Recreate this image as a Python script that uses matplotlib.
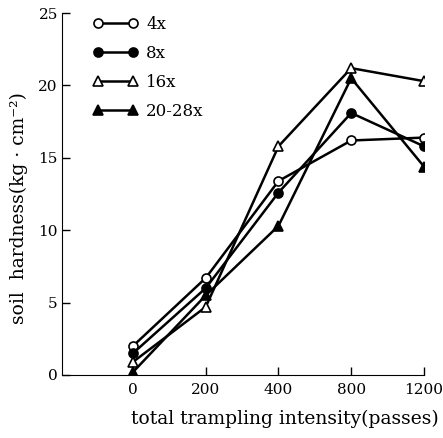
import matplotlib
matplotlib.use('Agg')
import matplotlib.pyplot as plt

plt.rcParams['font.family'] = ['DejaVu Serif']

# trampling intensity (passes), plotted as equally spaced categories
passes = ['0', '200', '400', '800', '1200']
labels = ['4x', '8x', '16x', '20-28x']
hard_4x = [2.0, 6.7, 13.4, 16.2, 16.4]
hard_8x = [1.5, 6.0, 12.6, 18.1, 15.8]
hard_16x = [0.9, 4.7, 15.8, 21.2, 20.3]
hard_20x = [0.2, 5.5, 10.3, 20.5, 14.4]

series = [hard_4x, hard_8x, hard_16x, hard_20x]
markers = ['o', 'o', '^', '^']
faces = ['white', 'black', 'white', 'black']

fig = plt.figure(figsize=(4.43, 4.38), dpi=100)
ax = fig.add_axes([0.14, 0.144, 0.817, 0.826])

xs = list(range(len(passes)))
for vals, m, fc, lab in zip(series, markers, faces, labels):
    ax.plot(xs, vals, color='black', lw=1.8, marker=m, markersize=6.5,
            markerfacecolor=fc, markeredgecolor='black', markeredgewidth=1.2,
            label=lab)

ax.set_xlim(-0.976, 4)
ax.set_ylim(0, 25)
ax.set_xticks(xs)
ax.set_xticklabels(passes)
ax.set_yticks([0, 5, 10, 15, 20, 25])
ax.spines['top'].set_visible(False)
ax.spines['right'].set_visible(False)
ax.tick_params(direction='in', length=6, width=1, labelsize=11)
ax.tick_params(axis='x', pad=6)
ax.tick_params(axis='y', pad=3)

ax.set_xlabel('total trampling intensity(passes)', fontsize=13.5)
ax.xaxis.set_label_coords(0.616, -0.096)
ax.set_ylabel('soil  hardness(kg · cm⁻²)', fontsize=13.5)
ax.yaxis.set_label_coords(-0.095, 0.46)

ax.legend(loc='upper left', bbox_to_anchor=(0.044, 1.034), frameon=False,
          numpoints=2, handlelength=2.7, fontsize=12, labelspacing=0.72,
          handletextpad=0.5)

plt.savefig('out.png', dpi=100)
